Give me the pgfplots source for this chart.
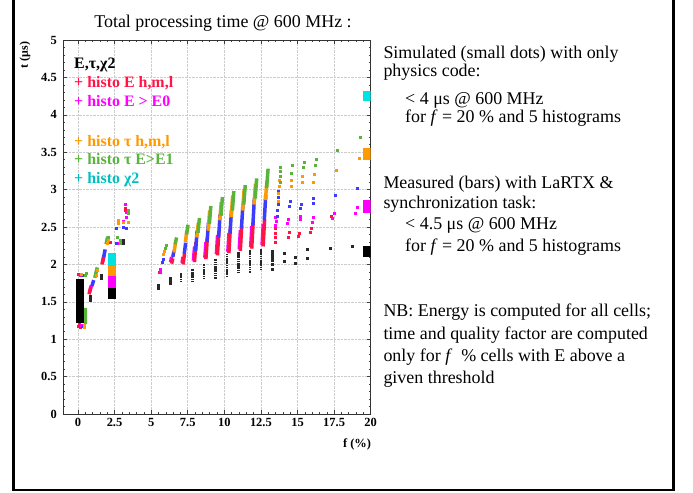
\documentclass[border=0pt]{standalone}
\usepackage{pgfplots}
\pgfplotsset{compat=1.18}
\usepackage{pgfplotstable}
\usepackage{fontspec}
\setmainfont{Liberation Serif}
\definecolor{cred}{RGB}{255,20,70}
\definecolor{cmag}{RGB}{255,0,255}
\definecolor{corg}{RGB}{255,153,0}
\definecolor{cgrn}{RGB}{90,180,60}
\definecolor{ccyn}{RGB}{0,225,225}
\definecolor{cblu}{RGB}{60,60,255}
\definecolor{cblk}{RGB}{40,40,40}

% ---- dense streaks (simulated), segments separated by nan ----
\pgfplotstableread{
x y
7.05 1.76
7.05 1.89
nan nan
7.83 1.76
7.83 1.94
nan nan
8.61 1.80
8.61 2.01
nan nan
9.40 1.81
9.40 2.07
nan nan
10.18 1.83
10.18 2.14
nan nan
10.96 1.88
10.96 2.16
nan nan
11.74 1.89
11.74 2.19
nan nan
12.52 1.92
12.52 2.21
}\blackS
\pgfplotstableread{
x y
0.80 1.63
0.92 1.72
nan nan
1.68 2.03
1.76 2.10
nan nan
6.33 2.03
6.40 2.10
nan nan
7.11 2.02
7.18 2.10
nan nan
7.89 2.05
7.97 2.24
nan nan
8.67 2.09
8.75 2.30
nan nan
9.46 2.14
9.54 2.39
nan nan
10.24 2.17
10.32 2.42
nan nan
11.02 2.20
11.10 2.46
nan nan
11.80 2.23
11.88 2.51
nan nan
12.58 2.26
12.66 2.54
}\magS
\pgfplotstableread{
x y
0.76 1.60
0.88 1.70
nan nan
1.64 2.00
1.78 2.12
nan nan
6.40 2.01
6.48 2.08
nan nan
7.18 2.00
7.28 2.14
nan nan
7.96 2.03
8.06 2.30
nan nan
8.74 2.07
8.84 2.36
nan nan
9.53 2.12
9.63 2.45
nan nan
10.31 2.15
10.41 2.48
nan nan
11.09 2.18
11.19 2.52
nan nan
11.87 2.21
11.97 2.57
nan nan
12.65 2.24
12.75 2.60
}\redS
\pgfplotstableread{
x y
0.95 1.71
1.08 1.79
nan nan
1.76 2.10
1.86 2.20
nan nan
6.48 2.10
6.56 2.18
nan nan
7.26 2.14
7.36 2.29
nan nan
8.04 2.18
8.14 2.45
nan nan
8.82 2.30
8.92 2.56
nan nan
9.61 2.36
9.71 2.67
nan nan
10.39 2.42
10.49 2.72
nan nan
11.17 2.48
11.27 2.80
nan nan
11.95 2.52
12.05 2.88
nan nan
12.73 2.59
12.83 2.93
}\bluS
\pgfplotstableread{
x y
6.56 2.16
6.66 2.28
nan nan
7.34 2.30
7.44 2.45
nan nan
8.12 2.36
8.22 2.55
nan nan
8.90 2.45
9.00 2.72
nan nan
9.69 2.59
9.79 2.83
nan nan
10.47 2.63
10.57 2.92
nan nan
11.25 2.72
11.35 3.00
nan nan
12.03 2.80
12.13 3.08
nan nan
12.81 2.86
12.91 3.12
}\orgS
\pgfplotstableread{
x y
0.50 1.20
0.50 1.42
nan nan
1.15 1.82
1.32 1.96
nan nan
1.92 2.27
2.03 2.37
nan nan
6.64 2.27
6.74 2.36
nan nan
7.42 2.40
7.52 2.53
nan nan
8.20 2.42
8.30 2.62
nan nan
8.98 2.54
9.08 2.78
nan nan
9.77 2.65
9.87 2.90
nan nan
10.55 2.72
10.65 2.98
nan nan
11.33 2.80
11.43 3.06
nan nan
12.11 2.88
12.21 3.15
nan nan
12.89 3.02
12.99 3.28
}\grnS

% ---- isolated dots (simulated) ----
\pgfplotstableread{
x y
0.84 1.52
0.84 1.55
0.84 1.58
1.58 1.81
1.58 1.85
3.12 2.29
3.12 2.33
5.49 1.68
5.49 1.72
6.27 1.75
6.27 1.78
6.27 1.81
13.30 1.93
13.30 2.00
13.30 2.05
13.30 2.09
13.30 2.13
13.30 2.17
14.08 2.04
14.08 2.15
14.86 2.01
14.86 2.09
15.64 2.08
15.64 2.20
17.20 2.21
18.76 2.24
}\blackD
\pgfplotstableread{
x y
0.05 1.17
0.12 1.20
0.18 1.16
0.05 1.87
2.20 2.30
3.20 2.75
3.25 2.72
5.55 1.90
13.45 2.30
13.45 2.36
13.50 2.42
13.50 2.48
14.35 2.37
14.40 2.43
15.05 2.38
15.10 2.42
15.90 2.43
15.95 2.48
17.30 2.65
}\redD
\pgfplotstableread{
x y
0.20 1.19
0.15 1.86
3.30 2.70
3.30 2.63
3.25 2.81
3.10 2.58
2.80 2.28
5.60 1.89
5.65 1.93
13.50 2.52
13.55 2.58
13.50 2.63
14.30 2.55
14.35 2.60
15.15 2.60
15.20 2.64
16.00 2.57
16.05 2.63
17.40 2.62
17.50 2.68
18.95 2.69
19.05 2.76
}\magD
\pgfplotstableread{
x y
0.30 1.18
0.35 1.85
2.60 2.28
2.60 2.48
3.10 2.50
3.30 2.48
5.75 2.03
5.80 2.07
13.60 2.65
13.60 2.72
13.65 2.80
13.65 2.90
13.70 2.98
14.45 2.78
14.50 2.85
15.20 2.75
15.25 2.80
16.05 2.82
16.10 2.88
17.55 2.93
19.10 3.02
}\bluD
\pgfplotstableread{
x y
0.40 1.16
0.45 1.19
0.25 1.87
1.22 1.86
1.30 1.92
1.98 2.28
2.10 2.33
2.75 2.55
2.75 2.59
3.12 2.56
3.40 2.56
5.85 2.14
5.90 2.18
13.70 2.85
13.70 2.95
13.75 3.05
13.75 3.12
14.55 3.05
14.60 3.12
15.30 3.10
15.30 3.18
16.10 3.10
16.15 3.20
17.65 3.26
19.20 3.42
}\orgD
\pgfplotstableread{
x y
0.55 1.88
0.50 1.86
2.05 2.37
2.90 2.32
2.90 2.28
2.65 2.37
3.40 2.72
3.45 2.68
5.95 2.22
6.00 2.25
13.80 3.10
13.80 3.18
13.85 3.25
13.85 3.30
14.60 3.22
14.65 3.32
15.40 3.30
15.45 3.36
16.20 3.32
16.25 3.40
17.70 3.52
19.30 3.70
}\grnD

\begin{document}
\begin{tikzpicture}[x=1bp,y=1bp]
\useasboundingbox (0,0) rectangle (693,493);
\draw[line width=2.5bp] (13.3,494) -- (13.3,3) -- (673.5,3) -- (673.5,494);
\begin{axis}[
  at={(63.3bp,79bp)}, anchor=south west,
  scale only axis, width=307.4bp, height=374bp,
  xmin=-1, xmax=20, ymin=0, ymax=5,
  xtick={0,2.5,5,7.5,10,12.5,15,17.5,20},
  ytick={0,0.5,1,1.5,2,2.5,3,3.5,4,4.5,5},
  minor x tick num=4, minor y tick num=4,
  tick align=inside,
  major tick length=4bp, minor tick length=2bp,
  tick style={black!75, line width=0.5bp},
  axis line style={black!80, line width=0.6bp},
  grid=major,
  major grid style={gray!40, densely dotted, line width=0.5bp},
  /pgf/number format/assume math mode=true,
  tick label style={font=\bfseries\fontsize{12.5}{13}\selectfont},
  yticklabel style={xshift=-3bp},
  xticklabel style={yshift=-1bp},
  unbounded coords=jump,
  clip=true,
]
% streaks
\addplot[cblk, line width=2.5bp, dash pattern=on 1.6bp off 0.6bp] table {\blackS};
\addplot[cmag, line width=3.5bp] table {\magS};
\addplot[cred, line width=3.5bp] table {\redS};
\addplot[cblu, line width=3.5bp] table {\bluS};
\addplot[corg, line width=3.5bp] table {\orgS};
\addplot[cgrn, line width=3.5bp] table {\grnS};
% dots
\addplot[only marks, mark=square*, mark size=1bp, cblk, mark options={draw=none}] table {\blackD};
\addplot[only marks, mark=square*, mark size=1bp, cred, mark options={draw=none}] table {\redD};
\addplot[only marks, mark=square*, mark size=1bp, cmag, mark options={draw=none}] table {\magD};
\addplot[only marks, mark=square*, mark size=1bp, cblu, mark options={draw=none}] table {\bluD};
\addplot[only marks, mark=square*, mark size=1bp, corg, mark options={draw=none}] table {\orgD};
\addplot[only marks, mark=square*, mark size=1bp, cgrn, mark options={draw=none}] table {\grnD};
% measured bars
\addplot[fill=black, draw=none] coordinates {(-0.14,1.22) (0.41,1.22) (0.41,1.80) (-0.14,1.80)} -- cycle;
\addplot[fill=black, draw=none] coordinates {(2.05,1.54) (2.6,1.54) (2.6,1.68) (2.05,1.68)} -- cycle;
\addplot[fill=cmag, draw=none] coordinates {(2.05,1.68) (2.6,1.68) (2.6,1.84) (2.05,1.84)} -- cycle;
\addplot[fill=corg, draw=none] coordinates {(2.05,1.84) (2.6,1.84) (2.6,1.98) (2.05,1.98)} -- cycle;
\addplot[fill=ccyn, draw=none] coordinates {(2.05,1.98) (2.6,1.98) (2.6,2.15) (2.05,2.15)} -- cycle;
\addplot[fill=black, draw=none] coordinates {(19.5,2.10) (20,2.10) (20,2.24) (19.5,2.24)} -- cycle;
\addplot[fill=cmag, draw=none] coordinates {(19.5,2.69) (20,2.69) (20,2.86) (19.5,2.86)} -- cycle;
\addplot[fill=corg, draw=none] coordinates {(19.5,3.40) (20,3.40) (20,3.56) (19.5,3.56)} -- cycle;
\addplot[fill=ccyn, draw=none] coordinates {(19.5,4.18) (20,4.18) (20,4.32) (19.5,4.32)} -- cycle;
\end{axis}
% titles and labels
\node[anchor=base, font=\fontsize{18}{20}\selectfont, inner sep=0] at (223,465) {Total processing time @ 600 MHz :};
\node[anchor=center, rotate=90, font=\bfseries\fontsize{12}{13}\selectfont, inner sep=0] at (25,438) {t (μs)};
\node[anchor=base, font=\bfseries\fontsize{12.5}{13}\selectfont, inner sep=0] at (357,45.7) {f (\%)};
% in-plot key
\begin{scope}[every node/.style={anchor=base west, inner sep=0, font=\bfseries\fontsize{16}{18}\selectfont}]
\node at (74,424.7) {E,τ,χ2};
\node[text=cred] at (74,405.7) {+ histo E h,m,l};
\node[text=cmag] at (74,386.3) {+ histo E > E0};
\node[text=corg] at (74,346.3) {+ histo τ h,m,l};
\node[text=cgrn] at (74,328) {+ histo τ E>E1};
\node[text=ccyn!85!black] at (74,309.7) {+ histo χ2};
\end{scope}
% right-hand text
\begin{scope}[every node/.style={anchor=base west, inner sep=0, font=\fontsize{18}{20}\selectfont}]
\node at (383.3,434.5) {Simulated (small dots) with only};
\node at (383.3,416.5) {physics code:};
\node at (405,388.5) {< 4 μs @ 600 MHz};
\node at (405,370.5) {for \textit{f} = 20 \% and 5 histograms};
\node at (383.3,304.7) {Measured (bars) with LaRTX \&};
\node at (383.3,284.7) {synchronization task:};
\node at (405,263.7) {< 4.5 μs @ 600 MHz};
\node at (405,241.3) {for \textit{f} = 20 \% and 5 histograms};
\node at (383.3,176.3) {NB: Energy is computed for all cells;};
\node at (383.3,153.7) {time and quality factor are computed};
\node at (383.3,131.3) {only for \textit{f}~ \% cells with E above a};
\node at (383.3,109.7) {given threshold};
\end{scope}
\end{tikzpicture}
\end{document}
